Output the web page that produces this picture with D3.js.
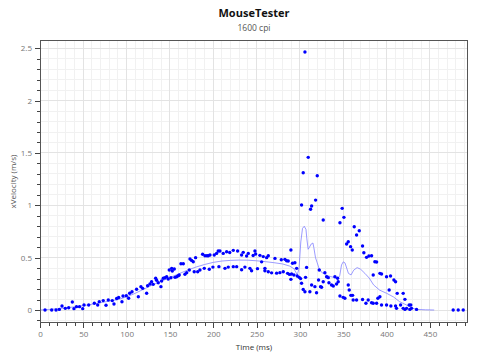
<!DOCTYPE html>
<html><head><meta charset="utf-8">
<script src="https://cdn.jsdelivr.net/npm/d3@7"></script>
<style>body{margin:0;background:#fff} svg{display:block} text{font-family:"Open Sans",sans-serif}</style>
</head><body><svg id="c" width="480" height="360"></svg>
<script>
const title = "MouseTester";
const subtitle = "1600 cpi";
const xLabel = "Time (ms)";
const yLabel = "xVelocity (m/s)";
const xMajorTicks = [0, 50, 100, 150, 200, 250, 300, 350, 400, 450];
const yMajorTicks = [0, 0.5, 1, 1.5, 2, 2.5];
const xDomain = [0, 494];
const yDomain = [-0.124, 2.579];

// measured samples: [time ms, velocity m/s]
const samples = [
[5.8,0],[13.5,0],[18.5,0],[22.3,0.006],[25.4,0.038],[29.2,0.016],[33.1,0.022],[37.3,0.076],[39.2,0.013],[42.1,0.032],[45.6,0.032],[49.3,0.013],[50.8,0.048],[56.2,0.048],[62.7,0.064],[66.6,0.048],[68.4,0.08],[73,0.09],[76.2,0.045],[78.8,0.095],[83.4,0.09],[85.4,0.057],[88.5,0.11],[90.8,0.12],[94.6,0.079],[95.8,0.134],[99.6,0.137],[102.3,0.112],[103.5,0.16],[106.2,0.175],
[111.5,0.198],[113.5,0.127],[116.5,0.223],[118.5,0.207],[123.1,0.16],[124.2,0.232],[126.9,0.248],[128.8,0.27],[130.7,0.245],[133.5,0.303],[134.6,0.284],[136.5,0.26],[139.6,0.223],[140.4,0.277],[142.3,0.303],[144.2,0.308],[146.2,0.318],[148,0.296],[149.2,0.382],[151.1,0.308],[152,0.398],[152.7,0.372],[155,0.392],[155.8,0.312],[157.7,0.318],[159.6,0.328],[160.7,0.334],[162.7,0.442],[165.4,0.442],[167.3,0.341],[169.3,0.357],[172.3,0.382],[173.1,0.487],[175,0.474],[176.9,0.461],[178,0.366],[179.6,0.5],[182,0.366],[184.6,0.382],[187.7,0.532],[189.6,0.398],[190.4,0.519],[192.7,0.519],[194.2,0.519],[195.4,0.389],[196.2,0.525],[199.6,0.41],[201.1,0.525],[203.8,0.541],[205.7,0.563],
[206.5,0.414],[207.7,0.563],[211.5,0.541],[213.5,0.398],[215.4,0.557],[217.3,0.41],[219,0.55],[223.1,0.57],[223.1,0.414],[227,0.414],[228.1,0.563],[232.7,0.525],[232.7,0.385],[234.6,0.551],[236.5,0.41],[238.5,0.516],[240.4,0.541],[242.3,0.398],[244.2,0.375],[246,0.52],[248.1,0.563],[248.9,0.535],[251,0.395],[253.8,0.522],[255.8,0.46],[257.7,0.51],[259.6,0.398],[259.6,0.375],[261.6,0.5],[263.5,0.519],[263.5,0.366],[267.3,0.355],[271.2,0.493],[273.1,0.352],[276.9,0.357],[278.5,0.48],[280.8,0.366],[282.7,0.484],[284.6,0.47],[285.8,0.35],[286.5,0.468],[288,0.34],
[289.6,0.573],[289.6,0.293],[290.4,0.344],[291.5,0.446],[293.1,0.334],[294.2,0.452],[296.2,0.398],[296.9,0.325],[299.2,0.312],[300.8,0.3],[301.9,1.003],[301.9,0.255],[303.8,1.311],[303.8,0.197],[305.8,2.464],[305.8,0.175],[306.5,0.312],[307.7,0.407],[309.6,1.458],[311.5,0.175],[312.3,0.962],[313.5,0.993],[313.5,0.239],[317.3,0.223],[318.1,1.05],[319.2,0.165],[320,1.283],[321.5,0.287],[322.3,0.382],[323.8,0.223],[325,0.217],[326.9,0.86],[326.9,0.27],[328.8,0.357],[330.8,0.318],[332.7,0.309],[333.5,0.261],[336.5,0.239],[338.5,0.229],[340.4,0.318],[342.3,0.248],[343.5,0.303],[344.2,0.27],[346.2,0.834],[346.2,0.134],[348.8,0.971],[349.9,0.121],[350.8,0.885],[351.9,0.112],[353.9,0.63],[355.8,0.652],[355.8,0.239],[356.9,0.191],[358.5,0.605],[358.8,0.14],[360.4,0.573],[360.8,0.14],[361.5,0.095],[362.7,0.796],[365.4,0.716],[365.4,0.095],[368.5,0.757],
[372.3,0.611],[372.3,0.1],[373.8,0.547],[376.2,0.064],[376.9,0.503],[378.8,0.095],[379.6,0.516],[382.7,0.519],[382.7,0.07],[384.6,0.334],[384.6,0.064],[386.5,0.461],[388.5,0.458],[388.5,0.064],[390,0.112],[392.3,0.35],[392.3,0.127],[394.2,0.344],[394.2,0.048],[400,0.318],[400,0.048],[403,0.191],[404.6,0.325],[405,0.038],[408.5,0.287],[410.4,0.27],[410.4,0.038],[411.5,0.016],[412.3,0.159],[416.2,0.048],[419.2,0.159],[419.2,0.016],[421.2,0.102],[421.2,0.006],[423.1,0.016],[426.1,0.048],[426.9,0.006],[428,0.048],[428.8,0.016],[434.6,0.006],[476.9,0],[482.7,0],[488.5,0]
];

// smoothed trace: [time ms, velocity m/s]
const smoothed = [
[0,0],[10,0.005],[20,0.012],[30,0.022],[40,0.03],[50,0.042],[60,0.055],[70,0.07],[80,0.085],[90,0.1],[100,0.125],[110,0.16],[120,0.2],[130,0.24],[140,0.275],[150,0.31],[160,0.345],[170,0.38],[180,0.41],[190,0.435],[200,0.455],[210,0.468],[220,0.474],[230,0.477],[240,0.476],[250,0.47],[260,0.462],[270,0.452],[280,0.44],[288,0.42],[293,0.395],[297,0.335],[299,0.4],[301,0.65],[303,0.78],[305,0.8],[307,0.77],[308,0.68],[309.5,0.58],[311,0.6],[313,0.63],[315,0.64],[316,0.6],[318,0.5],[320,0.45],[322,0.4],[325,0.36],[330,0.335],[335,0.32],[340,0.31],[344,0.3],[346,0.33],[348,0.43],[350,0.46],[352,0.45],[354,0.4],[356,0.35],[359,0.335],[362,0.38],[366,0.405],[370,0.39],[375,0.35],[380,0.305],[385,0.24],[392,0.19],[400,0.16],[408,0.125],[415,0.08],[423,0.048],[430,0.018],[435,0.006],[445,0.002],[455,0]
];

const svg = d3.select("#c");
const m = {l: 40, r: 12, t: 40, b: 37};
const W = 480, H = 360;
const x = d3.scaleLinear().domain(xDomain).range([m.l, W - m.r]);
const y = d3.scaleLinear().domain(yDomain).range([H - m.b, m.t]);

const xMinor = d3.range(0, xDomain[1], 10);
const yMinor = d3.range(-0.1, yDomain[1], 0.1).map(v => +v.toFixed(2));

const grid = svg.append("g");
grid.selectAll(".gxm").data(xMinor).join("line")
  .attr("x1", d => x(d)).attr("x2", d => x(d)).attr("y1", y.range()[0]).attr("y2", y.range()[1])
  .attr("stroke", "#f1f1f1").attr("shape-rendering", "crispEdges");
grid.selectAll(".gym").data(yMinor).join("line")
  .attr("y1", d => y(d)).attr("y2", d => y(d)).attr("x1", x.range()[0]).attr("x2", x.range()[1])
  .attr("stroke", "#f1f1f1").attr("shape-rendering", "crispEdges");
grid.selectAll(".gxM").data(xMajorTicks).join("line")
  .attr("x1", d => x(d)).attr("x2", d => x(d)).attr("y1", y.range()[0]).attr("y2", y.range()[1])
  .attr("stroke", "#e3e3e3").attr("shape-rendering", "crispEdges");
grid.selectAll(".gyM").data(yMajorTicks).join("line")
  .attr("y1", d => y(d)).attr("y2", d => y(d)).attr("x1", x.range()[0]).attr("x2", x.range()[1])
  .attr("stroke", "#e3e3e3").attr("shape-rendering", "crispEdges");

// axes
const fmt = d => String(d);
const xAxisMinor = d3.axisBottom(x).tickValues(xMinor).tickSize(3).tickFormat("");
const xAxis = d3.axisBottom(x).tickValues(xMajorTicks).tickSize(5).tickPadding(3).tickFormat(fmt);
const yAxisMinor = d3.axisLeft(y).tickValues(yMinor).tickSize(3).tickFormat("");
const yAxis = d3.axisLeft(y).tickValues(yMajorTicks).tickSize(5).tickPadding(3).tickFormat(fmt);
function styleAxis(g){
  g.select(".domain").remove();
  g.selectAll("line").attr("stroke", "#444").attr("shape-rendering", "crispEdges");
  g.selectAll("text").attr("fill", "#777").style("font-size", "8px").style("font-family", '"Open Sans",sans-serif');
}
svg.append("g").attr("transform", `translate(0,${H - m.b})`).call(xAxisMinor).call(styleAxis);
svg.append("g").attr("transform", `translate(0,${H - m.b})`).call(xAxis).call(styleAxis);
svg.append("g").attr("transform", `translate(${m.l},0)`).call(yAxisMinor).call(styleAxis);
svg.append("g").attr("transform", `translate(${m.l},0)`).call(yAxis).call(styleAxis);

// clip
svg.append("clipPath").attr("id", "clip").append("rect")
  .attr("x", m.l).attr("y", m.t).attr("width", W - m.l - m.r).attr("height", H - m.t - m.b);
const plot = svg.append("g").attr("clip-path", "url(#clip)");

const line = d3.line().x(d => x(d[0])).y(d => y(d[1]));
plot.append("path").datum(smoothed).attr("d", line)
  .attr("fill", "none").attr("stroke", "#7a7aff").attr("stroke-opacity", 0.75).attr("stroke-width", 1);

plot.selectAll("circle").data(samples).join("circle")
  .attr("cx", d => x(d[0])).attr("cy", d => y(d[1])).attr("r", 1.7).attr("fill", "#0000ff");

// frame
svg.append("rect").attr("x", m.l + 0.5).attr("y", m.t + 0.5)
  .attr("width", W - m.l - m.r - 1).attr("height", H - m.t - m.b - 1)
  .attr("fill", "none").attr("stroke", "#555");

const cx = (m.l + W - m.r) / 2;
svg.append("text").attr("x", cx).attr("y", 17).attr("text-anchor", "middle")
  .style("font-size", "11px").style("font-weight", "bold").attr("fill", "#111").text(title);
svg.append("text").attr("x", cx).attr("y", 31).attr("text-anchor", "middle")
  .style("font-size", "8.5px").attr("fill", "#555").text(subtitle);
svg.append("text").attr("x", cx).attr("y", 350).attr("text-anchor", "middle")
  .style("font-size", "8px").attr("fill", "#333").text(xLabel);
svg.append("text").attr("transform", `translate(16,${(m.t + H - m.b) / 2}) rotate(-90)`).attr("text-anchor", "middle")
  .style("font-size", "8px").attr("fill", "#555").text(yLabel);
</script></body></html>
